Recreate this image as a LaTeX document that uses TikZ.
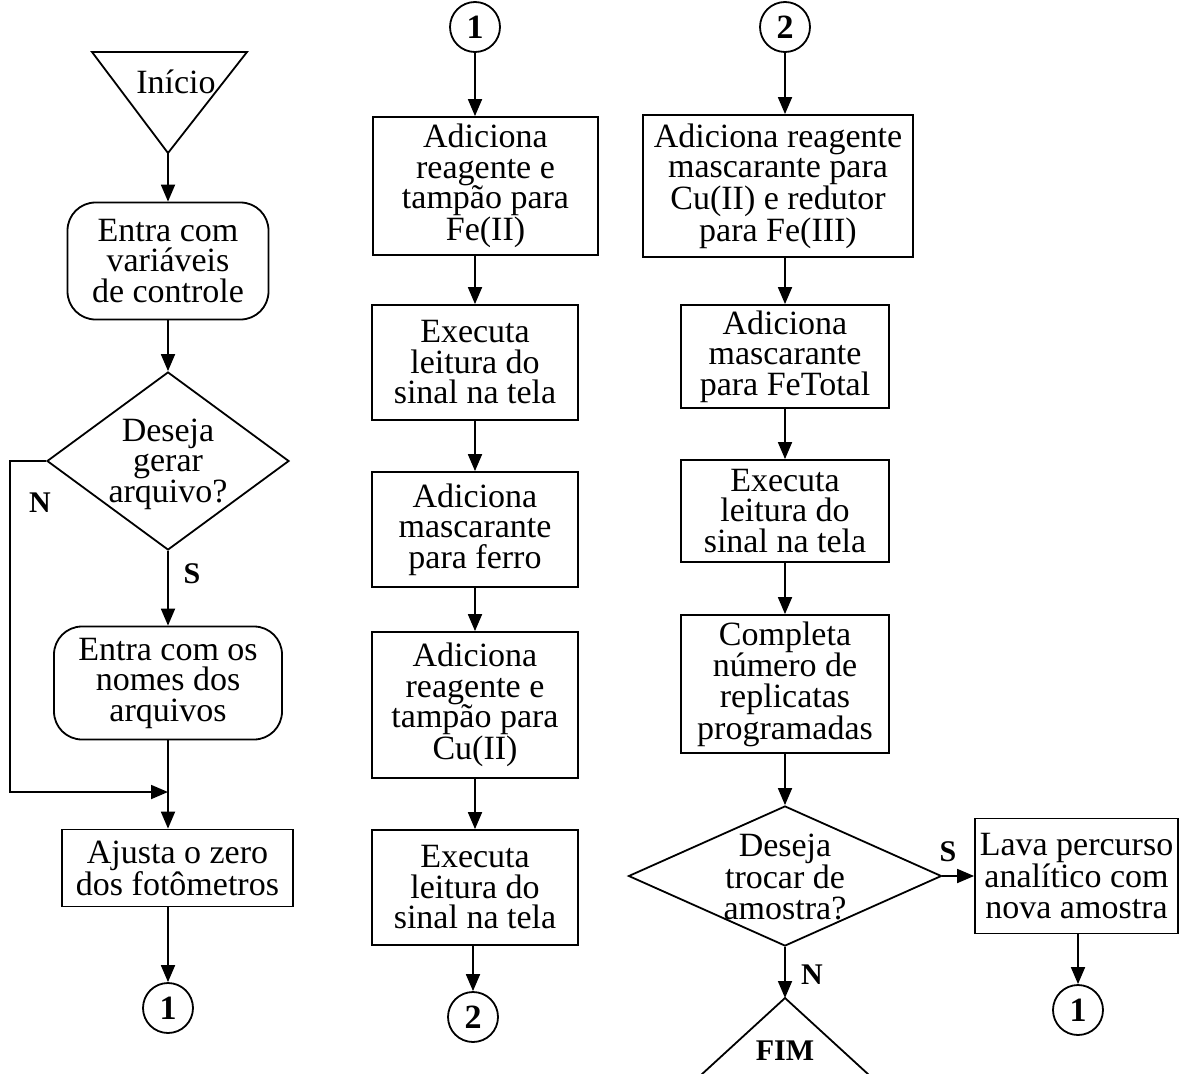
\documentclass[tikz,border=0pt]{standalone}
\usepackage{fontspec}
\setmainfont{Liberation Serif}
\usetikzlibrary{arrows.meta,shapes.geometric}
\begin{document}
\begin{tikzpicture}[x=1pt,y=-1pt,line width=1.8pt,
    font=\fontsize{34}{30.5}\selectfont,
    caixa/.style={draw,rectangle,align=center,inner sep=2pt},
    entrada/.style={draw,rectangle,rounded corners=28pt,align=center,inner sep=2pt},
    decisao/.style={draw,diamond,inner sep=0pt},
    conector/.style={draw,circle,minimum size=50pt,inner sep=0pt,
        font=\fontsize{34}{34}\selectfont\bfseries},
    rotulo/.style={font=\fontsize{30}{30}\selectfont\bfseries},
    seta/.style={-{Triangle[length=17pt,width=14pt]}}]
            \useasboundingbox (0,0) rectangle (1180,1073);
            \clip (0,0) rectangle (1180,1073);
            \coordinate (ini) at (168,153);
            \coordinate (jn) at (168,792);
            \coordinate (fim) at (785,998);
            \draw (92,52)--(247,52)--(ini)--cycle;
            \node[anchor=base] (tini) at (176,93) {Início};
            \node[entrada,minimum width=201pt,minimum height=117pt] (ent1) at (168,261) {Entra com\\variáveis\\de controle};
            \node[decisao,minimum width=242pt,minimum height=178pt] (dec1) at (168,461) {};
            \node[align=center] (tdec1) at (168,464) {Deseja\\gerar\\arquivo?};
            \node[entrada,minimum width=228pt,minimum height=113pt] (ent2) at (168,683) {Entra com os\\nomes dos\\arquivos};
            \node[caixa,minimum width=231pt,minimum height=77pt] (ajuste) at (177.5,868) {Ajusta o zero\\dos fotômetros};
            \node[conector] (c1a) at (168,1008) {1};
            \node[rotulo] (lN1) at (40,503) {N};
            \node[rotulo] (lS1) at (192,574) {S};
            \draw[seta] (ini)--(ent1);
            \draw[seta] (ent1)--(dec1);
            \draw[seta] (dec1)--(ent2);
            \draw (ent2)--(jn);
            \draw[seta] (jn)--(ajuste.north -| jn);
            \draw[seta] (dec1.west)--++(-36,0) |- (jn);
            \draw[seta] (ajuste.south -| jn)--(c1a);
            \node[conector] (c1b) at (475,27) {1};
            \node[caixa,minimum width=225pt,minimum height=138pt] (fe2) at (485.5,186) {Adiciona\\reagente e\\tampão para\\Fe(II)};
            \node[caixa,minimum width=206pt,minimum height=115pt] (exec1) at (475,362.5) {Executa\\leitura do\\sinal na tela};
            \node[caixa,minimum width=206pt,minimum height=115pt] (masc) at (475,529.5) {Adiciona\\mascarante\\para ferro};
            \node[caixa,minimum width=206pt,minimum height=146pt] (cu2) at (475,705) {Adiciona\\reagente e\\tampão para\\Cu(II)};
            \node[caixa,minimum width=206pt,minimum height=115pt] (exec2) at (475,887.5) {Executa\\leitura do\\sinal na tela};
            \node[conector] (c2a) at (473,1017) {2};
            \draw[seta] (c1b)--(c1b |- fe2.north);
            \draw[seta] (fe2.south -| c1b)--(exec1);
            \draw[seta] (exec1)--(masc);
            \draw[seta] (masc)--(cu2);
            \draw[seta] (cu2)--(exec2);
            \draw[seta] (exec2.south -| c2a)--(c2a);
            \node[conector] (c2b) at (785,27) {2};
            \node[caixa,minimum width=270pt,minimum height=142pt] (masc2) at (778,186) {Adiciona reagente\\mascarante para\\Cu(II) e redutor\\para Fe(III)};
            \node[caixa,minimum width=208pt,minimum height=103pt] (fetot) at (785,356.5) {Adiciona\\mascarante\\para FeTotal};
            \node[caixa,minimum width=208pt,minimum height=102pt] (exec3) at (785,511) {Executa\\leitura do\\sinal na tela};
            \node[caixa,minimum width=208pt,minimum height=138pt] (compl) at (785,684) {Completa\\número de\\replicatas\\programadas};
            \node[decisao,minimum width=313pt,minimum height=140pt] (dec2) at (785,876) {};
            \node[align=center] (tdec2) at (785,877) {Deseja\\trocar de\\amostra?};
            \node[caixa,minimum width=203pt,minimum height=115pt,inner sep=1pt] (lava) at (1076.5,876) {Lava percurso\\analítico com\\nova amostra};
            \node[conector] (c1c) at (1078,1010) {1};
            \draw (fim)--++(-120,110)--++(240,0)--cycle;
            \node[rotulo,anchor=base] (tfim) at (785,1060) {FIM};
            \node[rotulo] (lS2) at (948,852) {S};
            \node[rotulo] (lN2) at (812,975) {N};
            \draw[seta] (c2b)--(c2b |- masc2.north);
            \draw[seta] (masc2.south -| c2b)--(fetot);
            \draw[seta] (fetot)--(exec3);
            \draw[seta] (exec3)--(compl);
            \draw[seta] (compl)--(dec2);
            \draw[seta] (dec2)--(fim);
            \draw[seta] (dec2.east)--(lava.west);
            \draw[seta] (lava.south -| c1c)--(c1c);
        \end{tikzpicture}
\end{document}
